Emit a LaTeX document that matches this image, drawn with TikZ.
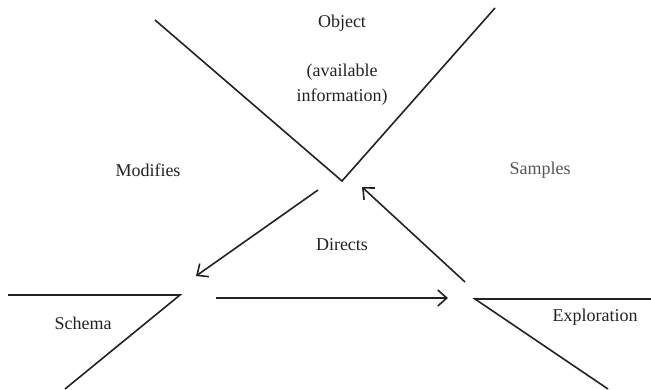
\documentclass[tikz,border=0pt]{standalone}
\usepackage{fontspec}
\setmainfont{Liberation Serif}
\usetikzlibrary{arrows.meta}
\definecolor{ink}{HTML}{222222}
\definecolor{lightink}{HTML}{555555}
\tikzset{
  edge/.style={draw=ink, line width=1.6pt},
  flow/.style={draw=ink, line width=1.6pt, -{Straight Barb[length=9pt,width=16pt,line width=1.6pt]}},
  lbl/.style={font=\fontsize{18}{25}\selectfont, text=ink, inner sep=0pt, align=center}
}
\begin{document}
\begin{tikzpicture}[x=1pt,y=-1pt]
\useasboundingbox (0,0) rectangle (651,389);
% V (Object)
\coordinate (vl) at (155,20);
\coordinate (vb) at (342,181);
\coordinate (vr) at (495,8);
\draw[edge] (vl) -- (vb) -- (vr);
% Schema triangle
\coordinate (sl) at (8,295);
\coordinate (sc) at (180,295);
\coordinate (sd) at (65,389);
\draw[edge] (sl) -- (sc) -- (sd);
% Exploration triangle
\coordinate (ec) at (475,299);
\coordinate (er) at (651,299);
\coordinate (ed) at (608,389);
\draw[edge] (er) -- (ec) -- (ed);
% labels
\node[lbl] (obj) at (342,23) {Object};
\node[lbl] (avail) at (342,85) {(available\\information)};
\node[lbl] (mod) at (148,170) {Modifies};
\node[lbl, text=lightink] (samp) at (540,170) {Samples};
\node[lbl] (dir) at (342,245) {Directs};
\node[lbl] (sch) at (83,323) {Schema};
\node[lbl] (exp) at (595,317) {Exploration};
% arrow endpoints
\coordinate (m1) at (318,190);
\coordinate (m2) at (196,276);
\coordinate (d1) at (216,298);
\coordinate (d2) at (448,298);
\coordinate (s1) at (465,282);
\coordinate (s2) at (362,187);
\draw[flow] (m1) -- (m2);
\draw[flow] (d1) -- (d2);
\draw[flow] (s1) -- (s2);
\end{tikzpicture}
\end{document}
